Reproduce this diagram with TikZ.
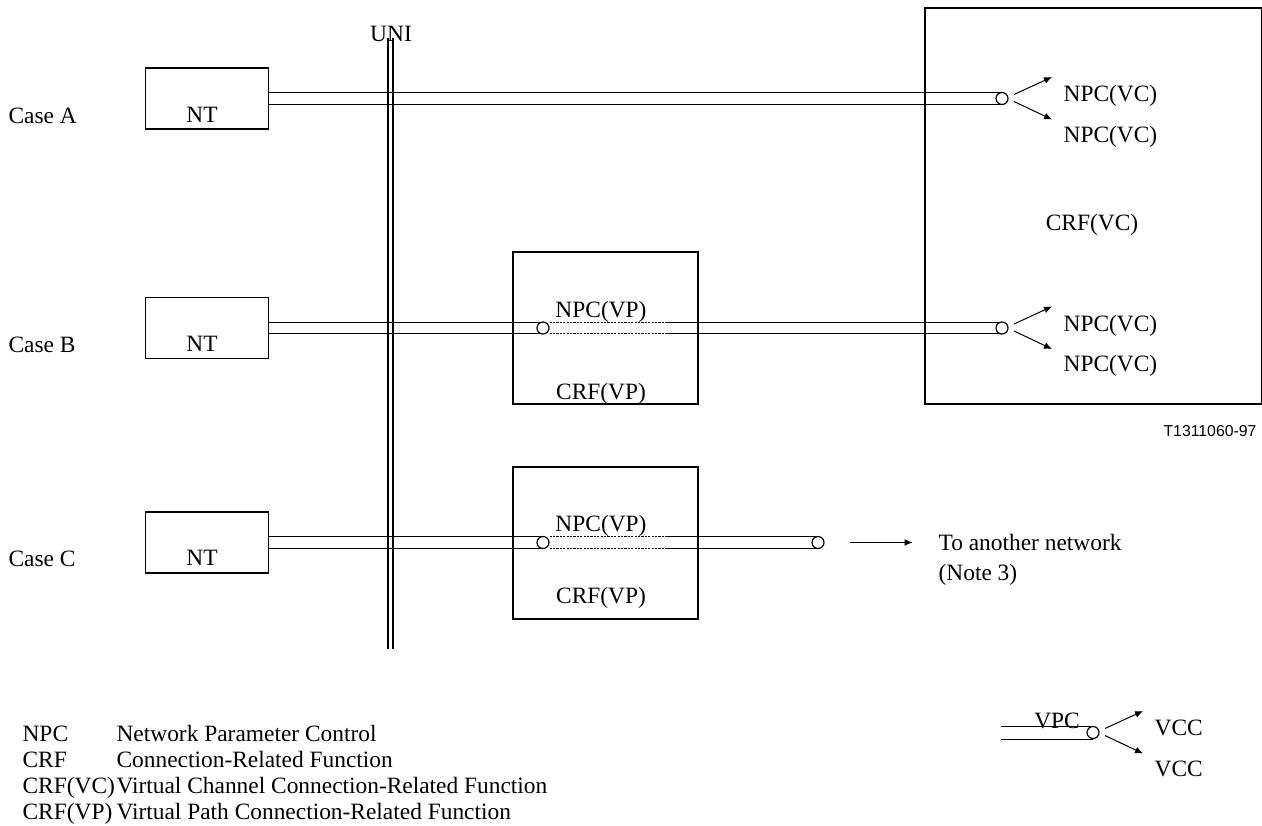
\documentclass[tikz,border=0pt]{standalone}
\usepackage{fontspec}
\setmainfont{Liberation Serif}
\newfontfamily\tagfont{Liberation Sans}
\usetikzlibrary{positioning}
\usetikzlibrary{backgrounds}
\usetikzlibrary{arrows.meta}

\tikzset{
    ntbox/.style={draw, minimum width=61.2pt, minimum height=30.5pt},
    vpbox/.style={draw, minimum width=92.5pt, minimum height=76pt},
    vcbox/.style={draw, minimum width=168.25pt, minimum height=198pt},
    junction/.style={circle, draw, fill=white, minimum size=6pt},
    dotpipe/.style={dash pattern=on 1.1pt off 0.6pt, line width=0.5pt},
    fanarrow/.style={-{Latex[length=4pt, width=3.4pt]}, line width=0.5pt}
}

\begin{document}
\begin{tikzpicture}[x=0.5pt, y=-0.5pt, line width=0.6pt,
    every node/.style={inner sep=0pt, font=\fontsize{11.7pt}{14pt}\selectfont}]

    \useasboundingbox (0, 0) rectangle (1262, 825);

    % Case labels and network terminations
    \foreach \c/\y/\b in {A/98.5/123, B/328/352, C/542.5/566}{
        \node[anchor=base west] (case\c) at (8, \b) {Case \c};
        \node[ntbox] (nt\c) at (207, \y) {};
        \node[anchor=base] (ntlbl\c) at (202, \b - 1) {NT};
    }

    % UNI
    \node[anchor=base] (uni) at (391, 41.5) {UNI};
    \draw (388, 38) -- (388, 649);
    \draw (393, 38) -- (393, 649);

    % Connection-related functions
    \node[vcbox] (crfVC) at (1093.25, 206) {};
    \node[anchor=base] (crfVClbl) at (1092, 230) {CRF(VC)};
    \node[vpbox] (crfB) at (605.5, 328) {};
    \node[vpbox] (crfC) at (605.5, 543) {};
    \foreach \c/\a/\b in {B/317/399, C/531/603}{
        \node[anchor=base] (npcvp\c) at (601, \a) {NPC(VP)};
        \node[anchor=base] (crfvp\c) at (601, \b) {CRF(VP)};
    }

    % Termination points
    \node[junction] (vcA) at (1002, 98.5) {};
    \node[junction] (vcB) at (1002, 328) {};
    \node[junction] (vpB) at (543, 328) {};
    \node[junction] (vpC) at (543, 542.5) {};
    \node[junction] (endC) at (818, 542.5) {};
    \node[junction] (vpcKey) at (1093, 732.5) {};
    \coordinate (dotEnd) at (665, 0);
    \coordinate (keyStart) at (1001, 732.5);

    % Pipes (VPC)
    \begin{scope}[on background layer]
        \foreach \s in {2.875pt, -2.875pt}{
            \draw ([yshift=\s]ntA.east) coordinate (p) -- (p -| vcA.center);

            \draw ([yshift=\s]ntB.east) coordinate (p) -- (p -| vpB.center);
            \draw[dotpipe] (p -| vpB.east) -- (p -| dotEnd);
            \draw (p -| dotEnd) -- (p -| vcB.center);

            \draw ([yshift=\s]ntC.east) coordinate (p) -- (p -| vpC.center);
            \draw[dotpipe] (p -| vpC.east) -- (p -| dotEnd);
            \draw (p -| dotEnd) -- (p -| endC.center);
        }
        \foreach \s in {3.25pt, -3.25pt}{
            \draw ([yshift=\s]keyStart) coordinate (p) -- (p -| vpcKey.center);
        }
    \end{scope}
    \node[anchor=base] (vpcLbl) at (1057, 728) {VPC};

    % Split into VCCs
    \foreach \j/\t in {vcA/NPC(VC), vcB/NPC(VC), vpcKey/VCC}{
        \draw[fanarrow] ([shift={(12,-4)}]\j.center) -- ([shift={(50,-21.5)}]\j.center);
        \draw[fanarrow] ([shift={(12,3)}]\j.center) -- ([shift={(50,21)}]\j.center);
        \node[anchor=base west] (\j up) at ([shift={(61,3)}]\j.center) {\t};
        \node[anchor=base west] (\j dn) at ([shift={(61,43.5)}]\j.center) {\t};
    }

    % Case C leaves the network
    \node[anchor=base west] (toNet) at (938, 550) {To another network};
    \node[anchor=base west] (note) at (938, 580) {(Note 3)};
    \draw[fanarrow] ([xshift=12.5pt]endC.east) -- ++(31.5pt, 0);

    \node[anchor=base east, font=\tagfont\fontsize{7.9pt}{9pt}\selectfont] (figtag) at (1257, 436.5) {T1311060-97};

    % Key
    \foreach \k/\d [count=\i] in {NPC/Network Parameter Control, CRF/Connection-Related Function, CRF(VC)/Virtual Channel Connection-Related Function, CRF(VP)/Virtual Path Connection-Related Function}{
        \pgfmathsetmacro\y{741 + 26 * (\i - 1)};
        \node[anchor=base west] (key\i) at (22, \y) {\k};
        \node[anchor=base west] (desc\i) at (116, \y) {\d};
    }

\end{tikzpicture}
\end{document}
